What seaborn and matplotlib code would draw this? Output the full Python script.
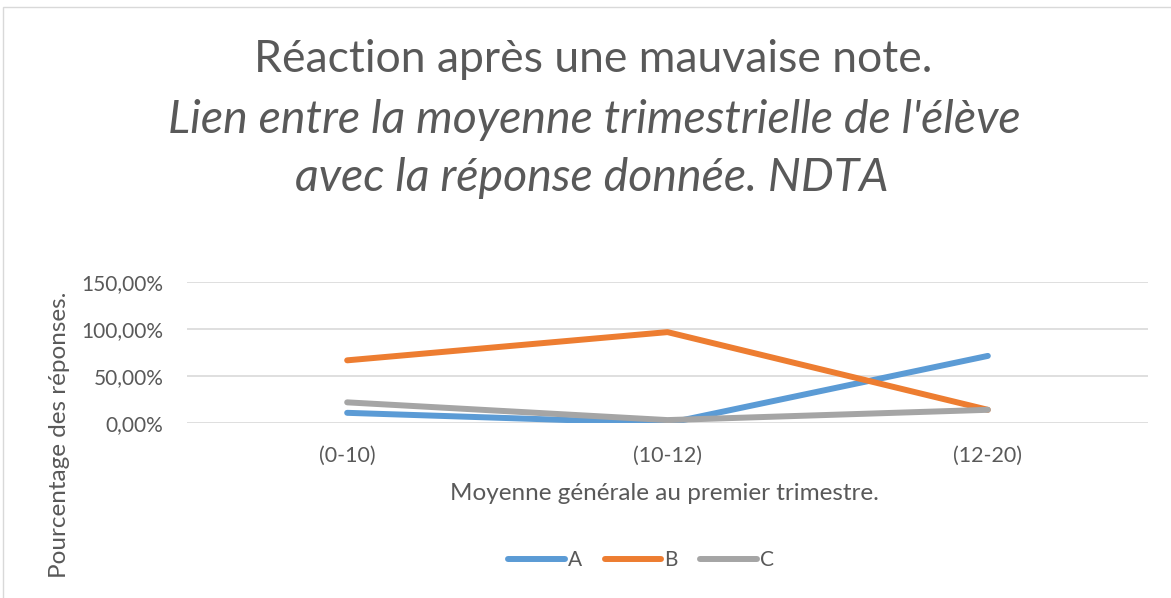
import matplotlib
matplotlib.use("Agg")
import matplotlib.pyplot as plt
import seaborn as sns
import pandas as pd
from matplotlib.ticker import FuncFormatter
from matplotlib.patches import Rectangle
from matplotlib.lines import Line2D

categories = ["(0-10)", "(10-12)", "(12-20)"]
serie_a = [0.111, 0.0, 0.714]
serie_b = [0.667, 0.966, 0.143]
serie_c = [0.222, 0.034, 0.143]
series_names = ["A", "B", "C"]
title_line1 = "Réaction après une mauvaise note."
title_line2 = "Lien entre la moyenne trimestrielle de l'élève"
title_line3 = "avec la réponse donnée. NDTA"
xlabel = "Moyenne générale au premier trimestre."
ylabel = "Pourcentage des réponses."

rows = []
for name, vals in zip(series_names, [serie_a, serie_b, serie_c]):
    for i, (cat, v) in enumerate(zip(categories, vals)):
        rows.append({"x": i, "cat": cat, "val": v, "serie": name})
df = pd.DataFrame(rows)

sns.set_theme(style="white")
plt.rcParams["font.family"] = ["Lato", "DejaVu Sans"]
txt = "#595959"
lw = 4.3

fig = plt.figure(figsize=(11.71, 5.98), dpi=100)
fig.patches.append(Rectangle((3 / 1171, -0.01), 1.2, 1 - 7 / 598 + 0.01, transform=fig.transFigure,
                             fill=False, edgecolor="#D9D9D9", linewidth=1.0))
ax = fig.add_axes([187 / 1171, 1 - 423.3 / 598, 961 / 1171, (423.3 - 281.7) / 598])

palette = {"A": "#5B9BD5", "B": "#ED7D31", "C": "#A5A5A5"}
sns.lineplot(data=df, x="x", y="val", hue="serie", palette=palette, ax=ax,
             linewidth=lw, legend=False)
for l in ax.lines:
    l.set_solid_capstyle("round")
    l.set_solid_joinstyle("round")

ax.set_xlim(-0.5, 2.5)
ax.set_ylim(0, 1.5)
ax.set_yticks([0, 0.5, 1.0, 1.5])
ax.yaxis.set_major_formatter(FuncFormatter(lambda v, p: f"{v*100:.2f}%".replace(".", ",")))
ax.set_xticks(range(len(categories)))
ax.set_xticklabels(categories)
ax.grid(axis="y", color="#D9D9D9", linewidth=1.2)
ax.set_axisbelow(True)
for s in ax.spines.values():
    s.set_visible(False)
ax.tick_params(axis="y", labelsize=15, colors=txt, pad=17, length=0)
ax.tick_params(axis="x", labelsize=15.5, colors=txt, pad=16, length=0)
ax.set_xlabel("")
ax.set_ylabel("")

fig.text(664 / 1171, 1 - 493 / 598, xlabel, ha="center", va="center", fontsize=17.5, color=txt)
fig.text(60 / 1171, 1 - 435 / 598, ylabel, ha="center", va="center", rotation=90, fontsize=17.5, color=txt)

fig.text(593 / 1171, 1 - 60 / 598, title_line1, ha="center", va="center", fontsize=32, color=txt)
fig.text(594 / 1171, 1 - 120 / 598, title_line2, ha="center", va="center", fontsize=33.5, color=txt, style="italic")
fig.text(592 / 1171, 1 - 178 / 598, title_line3, ha="center", va="center", fontsize=33.5, color=txt, style="italic")

handles = [Line2D([], [], color=palette[n], linewidth=lw, solid_capstyle="round") for n in series_names]
leg = fig.legend(handles, series_names, loc="center", bbox_to_anchor=(641 / 1171, 1 - 560 / 598), ncol=3,
                 frameon=False, fontsize=15, handlelength=2.7, handletextpad=0.15, columnspacing=1.1)
for t in leg.get_texts():
    t.set_color(txt)

fig.savefig("out.png", dpi=100, facecolor="white")
